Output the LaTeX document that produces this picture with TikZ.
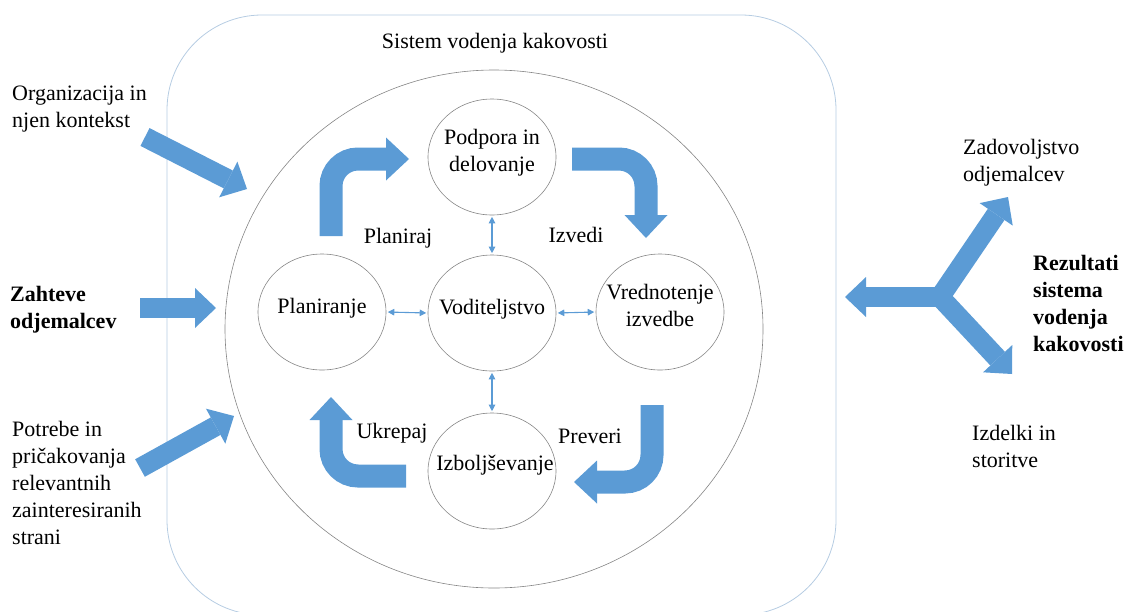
\documentclass[tikz,border=0pt]{standalone}
\usepackage{fontspec}
\setmainfont{Liberation Serif}
\usetikzlibrary{arrows.meta,shapes.geometric}

\definecolor{arrowblue}{HTML}{5B9BD5}
\definecolor{frameblue}{HTML}{B6CCE2}
\definecolor{ringgray}{HTML}{858585}

\begin{document}
\begin{tikzpicture}[x=1pt,y=-1pt,
  every node/.style={font=\fontsize{22}{27}\selectfont, inner sep=0pt, align=center},
  sidetext/.style={align=left, anchor=west},
  boldtext/.style={font=\fontsize{22}{27}\selectfont\bfseries},
  ring/.style={ellipse, draw=ringgray, line width=0.6pt},
  stage/.style={ring, minimum width=128pt, minimum height=116pt},
  link/.style={draw=arrowblue, line width=1.1pt, shorten <=1.5pt, shorten >=1.5pt,
    {Triangle[length=6.5pt,width=6.5pt]}-{Triangle[length=6.5pt,width=6.5pt]}},
  blockarrow/.style={draw=arrowblue, line width=20pt,
    -{Triangle[width=40pt,length=21pt,line width=0pt]}},
  bentarrow/.style={draw=arrowblue, line width=23pt, rounded corners=27pt,
    -{Triangle[width=43pt,length=23pt,line width=0pt]}}
]
\useasboundingbox (0,0) rectangle (1137,611);
\clip (0,0) rectangle (1137,611);

% system frame and the process ring
\draw[frameblue, line width=0.8pt, rounded corners=95pt] (167,15) rectangle (836,615);
\node[ring, minimum width=538pt, minimum height=518pt] (ring) at (494,329) {};
\node (title) at (495,43) {Sistem vodenja kakovosti};

% PDCA stages
\node[stage] (podpora) at (492,157) {};
\node[stage] (vodenje) at (492,313) {};
\node[stage] (plan)    at (322,312) {};
\node[stage] (vred)    at (660,312) {};
\node[stage] (izbolj)  at (492,471) {};

\node (podporaT) at (492,153) {Podpora in\\delovanje};
\node (vodenjeT) at (492,309) {Voditeljstvo};
\node (planT)    at (322,308) {Planiranje};
\node (vredT)    at (660,305) {Vrednotenje\\izvedbe};
\node (izboljT)  at (495,465) {Izboljševanje};

\draw[link] (podpora.south) -- (vodenje.north);
\draw[link] (vodenje.south) -- (izbolj.north);
\draw[link] (plan.east) -- (vodenje.west);
\draw[link] (vodenje.east) -- (vred.west);

% cycle arrows
\coordinate (p1) at (331,236); \coordinate (p2) at (331,159); \coordinate (p3) at (409,159);
\coordinate (d1) at (572,159); \coordinate (d2) at (646,159); \coordinate (d3) at (646,238);
\coordinate (c1) at (652,405); \coordinate (c2) at (652,482); \coordinate (c3) at (574,482);
\coordinate (a1) at (406,476); \coordinate (a2) at (331,476); \coordinate (a3) at (331,397);
\draw[bentarrow] (p1) -- (p2) -- (p3);
\draw[bentarrow] (d1) -- (d2) -- (d3);
\draw[bentarrow] (c1) -- (c2) -- (c3);
\draw[bentarrow] (a1) -- (a2) -- (a3);

\node (planiraj) at (398,238) {Planiraj};
\node (izvedi)   at (576,235) {Izvedi};
\node (ukrepaj)  at (392,433) {Ukrepaj};
\node (preveri)  at (590,436) {Preveri};

% inputs
\node[sidetext] (org) at (12,109) {Organizacija in\\njen kontekst};
\node[sidetext, boldtext] (zahteve) at (10,310) {Zahteve\\odjemalcev};
\node[sidetext] (potrebe) at (12,483) {Potrebe in\\pričakovanja\\relevantnih\\zainteresiranih\\strani};

\coordinate (orgTail) at (145,137);  \coordinate (orgTip) at (247,189);
\coordinate (zahTail) at (140,308);  \coordinate (zahTip) at (216,308);
\coordinate (potTail) at (140,468);  \coordinate (potTip) at (234,416);
\draw[blockarrow] (orgTail) -- (orgTip);
\draw[blockarrow] (zahTail) -- (zahTip);
\draw[blockarrow] (potTail) -- (potTip);

% outputs
\coordinate (hub) at (940,297);
\coordinate (outLeft) at (845,297);
\coordinate (outUp) at (1008,197);
\coordinate (outDown) at (1012,374);
\draw[blockarrow] (hub) -- (outLeft);
\draw[blockarrow] (hub) -- (outUp);
\draw[blockarrow] (hub) -- (outDown);

\node[sidetext] (zadov) at (963,163) {Zadovoljstvo\\odjemalcev};
\node[sidetext, boldtext] (rezult) at (1033,303) {Rezultati\\sistema\\vodenja\\kakovosti};
\node[sidetext] (izdelki) at (972,446) {Izdelki in\\storitve};
\end{tikzpicture}
\end{document}
